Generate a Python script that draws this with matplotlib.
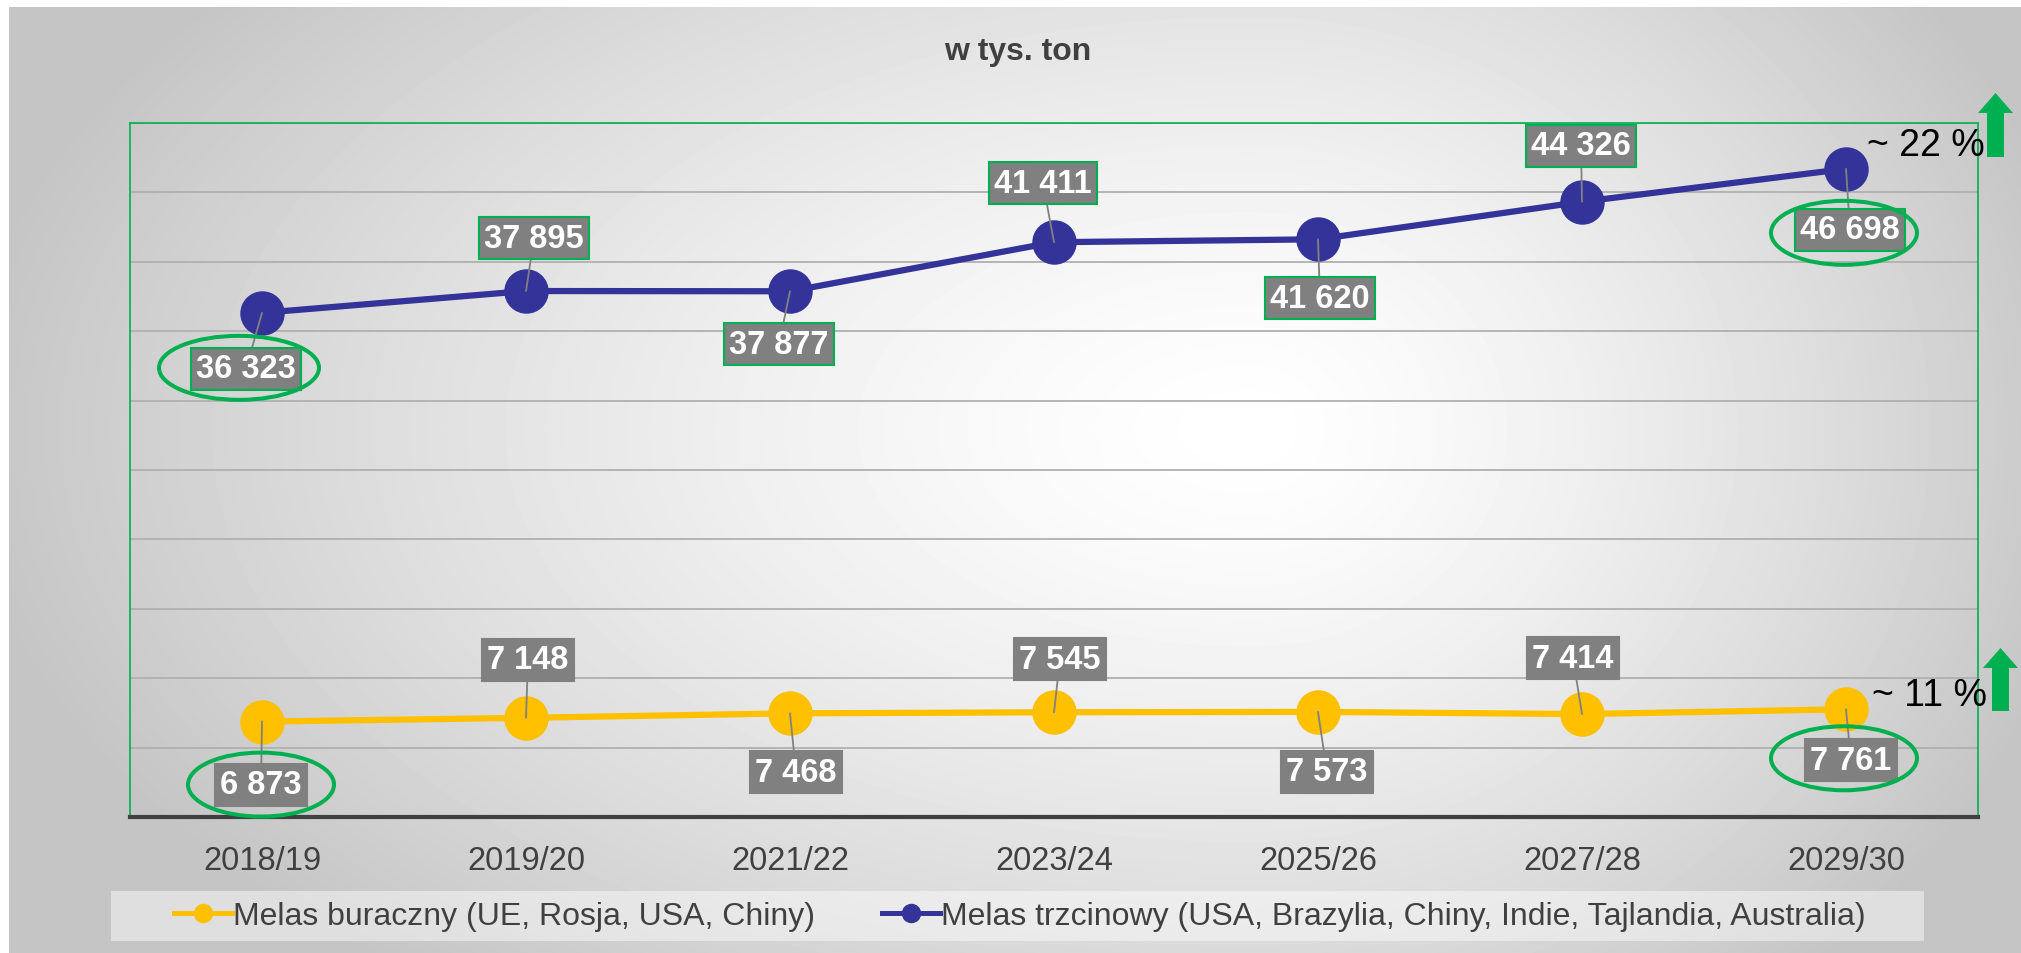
import numpy as np
import matplotlib
matplotlib.use('Agg')
from matplotlib import pyplot as plt
from matplotlib.lines import Line2D
from matplotlib.patches import Ellipse, Rectangle, FancyArrow
from matplotlib.transforms import IdentityTransform

plt.rcParams['font.family'] = ['Liberation Sans', 'DejaVu Sans']

#data
seasons = ['2018/19', '2019/20', '2021/22', '2023/24', '2025/26', '2027/28', '2029/30']
beet = [6873, 7148, 7468, 7545, 7573, 7414, 7761]
cane = [36323, 37895, 37877, 41411, 41620, 44326, 46698]
beet_name = 'Melas buraczny (UE, Rosja, USA, Chiny)'
cane_name = 'Melas trzcinowy (USA, Brazylia, Chiny, Indie, Tajlandia, Australia)'
title = 'w tys. ton'
beet_change = '~ 11 %'
cane_change = '~ 22 %'
circled = [0, 6]

#layout (pixels, label centre relative to point, y up)
cane_off = [(-16, -56), (8, 53), (-11, -53), (-11, 59), (2, -59), (-1, 56), (4, -61)]
beet_off = [(-1, -63), (2, 58), (6, -59), (6, 53), (9, -60), (-9, 56), (5, -51)]
cane_ell = {0: (-7, 1, 160, 64), 6: (-6, -3, 146, 64)}
beet_ell = {0: (0, 0, 146, 64), 6: (-7, 2, 146, 64)}

W, H = 2021, 954
YELLOW = '#FFC000'
BLUE = '#333399'
GREEN = '#00B050'
DARK = '#404040'

fig = plt.figure(figsize=(W/100, H/100), dpi=100)
fig.patch.set_facecolor('white')

#radial background
bg = fig.add_axes([9/W, 0, 1-9/W, 1-8/H], zorder=-10)
gx, gy = np.meshgrid(np.arange(9, W), np.arange(8, H))
cx, cy = 1250, 430
rx = np.where(gx < cx, 1300.0, 850.0)
d = np.sqrt(((gx-cx)/rx)**2 + ((gy-cy)/720.0)**2)
shade = 1 - 0.23*np.clip(d, 0, 1)**1.4
bg.imshow(shade, cmap='gray', vmin=0, vmax=1, aspect='auto', interpolation='bilinear')
bg.axis('off')

ax = fig.add_axes([130/W, (H-818)/H, 1848/W, 694/H])
ax.set_facecolor('none')
x = np.arange(len(seasons))

ax.plot(x, beet, color=YELLOW, lw=4.5, marker='o', markersize=31, zorder=3, solid_capstyle='butt')
ax.plot(x, cane, color=BLUE, lw=4.5, marker='o', markersize=31, zorder=3, solid_capstyle='butt')

ax.set_xlim(-0.5, len(seasons)-0.5)
ax.set_ylim(0, 50000)
ax.set_yticks(np.arange(0, 50001, 5000))
ax.yaxis.grid(True, color='#b0b0b0', lw=1.3)
ax.set_axisbelow(True)
ax.tick_params(axis='y', length=0, labelleft=False)
ax.set_xticks(x)
ax.set_xticklabels(seasons)
ax.tick_params(axis='x', length=0, pad=20, labelsize=23.5, labelcolor=DARK)
for s in ['top', 'left', 'right']:
    ax.spines[s].set_color(GREEN)
    ax.spines[s].set_linewidth(1.2)
ax.spines['bottom'].set_color(DARK)
ax.spines['bottom'].set_linewidth(3)

def labels(vals, offs, edge, ells):
    for i, (v, (dx, dy)) in enumerate(zip(vals, offs)):
        txt = f'{v:,}'.replace(',', ' ')
        ax.annotate(txt, xy=(i, v), xytext=(dx, dy), textcoords='offset pixels',
                    ha='center', va='center', fontsize=23.5, fontweight='bold', color='white',
                    bbox=dict(boxstyle='square,pad=0.17', fc='#808080', ec=edge, lw=1.5),
                    arrowprops=dict(arrowstyle='-', color='#808080', lw=1.3, shrinkA=0, shrinkB=0),
                    zorder=5, annotation_clip=False)
        if i in ells:
            ex, ey, ew, eh = ells[i]
            px, py = ax.transData.transform((i, v))
            ax.add_patch(Ellipse((px+dx+ex, py+dy+ey), ew, eh, fill=False, ec=GREEN, lw=2.9,
                                 transform=IdentityTransform(), clip_on=False, zorder=6))

labels(cane, cane_off, GREEN, {k: cane_ell[k] for k in circled})
labels(beet, beet_off, '#808080', {k: beet_ell[k] for k in circled})

#arrows and change texts
for (bx, by, top) in [(1995.5, H-158, H-94), (2000.5, H-712, H-649)]:
    fig.add_artist(FancyArrow(bx, by, 0, top-by, width=17, head_width=35, head_length=20,
                              length_includes_head=True, color=GREEN, lw=0,
                              transform=IdentityTransform()))
fig.text(1867/W, 1-146/H, cane_change, fontsize=27, color='black', va='center', ha='left')
fig.text(1872/W, 1-696/H, beet_change, fontsize=27, color='black', va='center', ha='left')

fig.text(1018/W, 1-52/H, title, fontsize=23, fontweight='bold', color=DARK, ha='center', va='center')

#legend
fig.add_artist(Rectangle((111/W, 12/H), 1813/W, 50/H, transform=fig.transFigure,
                         fc='white', alpha=0.45, lw=0, zorder=0))
handles = [Line2D([], [], color=YELLOW, lw=3.6, marker='o', markersize=13),
           Line2D([], [], color=BLUE, lw=3.6, marker='o', markersize=13)]
leg = fig.legend(handles, [beet_name, cane_name], loc='center', bbox_to_anchor=(1020/W, 1-917/H),
                 ncol=2, frameon=False, fontsize=23, handlelength=1.8, handletextpad=0.05,
                 columnspacing=2.1, labelcolor=DARK, borderaxespad=0)

plt.savefig('out.png', dpi=100)
